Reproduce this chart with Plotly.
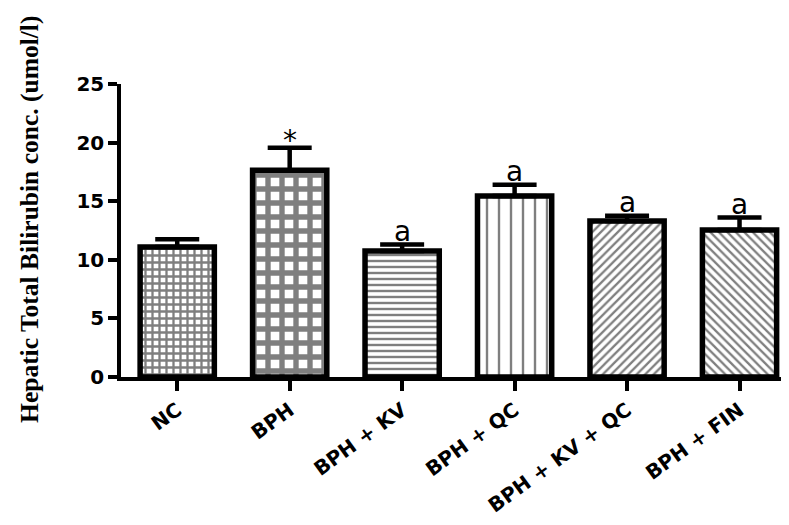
import plotly.graph_objects as go

categories = ["NC", "BPH", "BPH + KV", "BPH + QC", "BPH + KV + QC", "BPH + FIN"]
means = [11.1, 17.65, 10.75, 15.45, 13.3, 12.55]
sem = [0.65, 1.9, 0.55, 0.95, 0.45, 1.05]
sig_labels = ["", "*", "a", "a", "a", "a"]
y_ticks = [0, 5, 10, 15, 20, 25]
y_title = "Hepatic Total Bilirubin conc. (umol/l)"

pattern_shapes = ["+", "+", "-", "|", "/", "\\"]
pattern_sizes = [7, 14, 6, 12, 6, 6]
pattern_solid = [0.55, 0.62, 0.4, 0.2, 0.38, 0.38]

fig = go.Figure()
fig.add_trace(go.Bar(
    x=categories,
    y=means,
    width=0.66,
    marker=dict(
        color="white",
        line=dict(color="black", width=5.5),
        pattern=dict(
            shape=pattern_shapes,
            size=pattern_sizes,
            solidity=pattern_solid,
            fgcolor="black",
            bgcolor="white",
            fillmode="overlay",
        ),
    ),
    error_y=dict(
        type="data",
        symmetric=False,
        array=sem,
        arrayminus=[0] * len(sem),
        color="black",
        thickness=4.5,
        width=22,
    ),
    showlegend=False,
))

for c, m, s, lab in zip(categories, means, sem, sig_labels):
    if lab:
        fig.add_annotation(
            x=c, y=m + s, text=lab, showarrow=False,
            xanchor="center", yanchor="bottom", yshift=-5 if lab == "a" else -11,
            font=dict(family="DejaVu Sans", size=28, color="black"),
        )

fig.add_annotation(
    xref="paper", yref="paper", x=0, y=0.536, xshift=-91,
    text=y_title, textangle=-90, showarrow=False,
    xanchor="center", yanchor="middle",
    font=dict(family="Liberation Serif", size=25.5, color="black", weight="bold"),
)

fig.update_xaxes(
    range=[-0.5, 5.44],
    automargin=False,
    showline=True, linecolor="black", linewidth=3.5,
    ticks="outside", ticklen=10, tickwidth=3.5, tickcolor="black",
    tickangle=-36,
    tickfont=dict(family="DejaVu Sans", size=20, color="black", weight="bold"),
    showgrid=False, zeroline=False,
)
fig.update_yaxes(
    range=[0, 25],
    automargin=False,
    tickvals=y_ticks,
    showline=True, linecolor="black", linewidth=3.5,
    ticks="outside", ticklen=9, tickwidth=3.5, tickcolor="black",
    tickfont=dict(family="DejaVu Sans", size=20, color="black", weight="bold"),
    showgrid=False, zeroline=False,
)
fig.update_layout(
    width=789, height=525,
    margin=dict(l=113, r=8, t=76, b=156),
    plot_bgcolor="white", paper_bgcolor="white",
)
fig.write_html("out.html")
